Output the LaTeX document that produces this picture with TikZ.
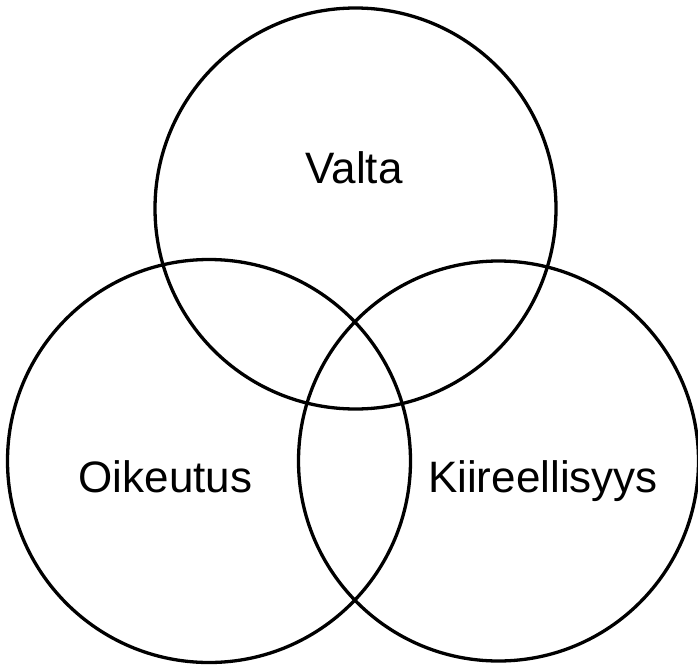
\documentclass[tikz,border=0pt]{standalone}
\usepackage{fontspec}
\setmainfont{Liberation Sans}
\begin{document}
\begin{tikzpicture}[x=1pt,y=-1pt,
  ring/.style={circle, draw=black, line width=3.3pt, inner sep=0pt, minimum size=#1},
  lbl/.style={anchor=base, inner sep=0pt, font=\fontsize{44}{50}\selectfont}]
\useasboundingbox (0,0) rectangle (698,664);
\node[ring=401pt] (top) at (355.5,208.5) {};
\node[ring=403pt] (left) at (209,461) {};
\node[ring=400pt] (right) at (498.5,461) {};
\node[lbl] (valta) at (354,183) {Valta};
\node[lbl] (oik) at (165.5,492) {Oikeutus};
\node[lbl] (kii) at (543,492) {Kiireellisyys};
\end{tikzpicture}
\end{document}
